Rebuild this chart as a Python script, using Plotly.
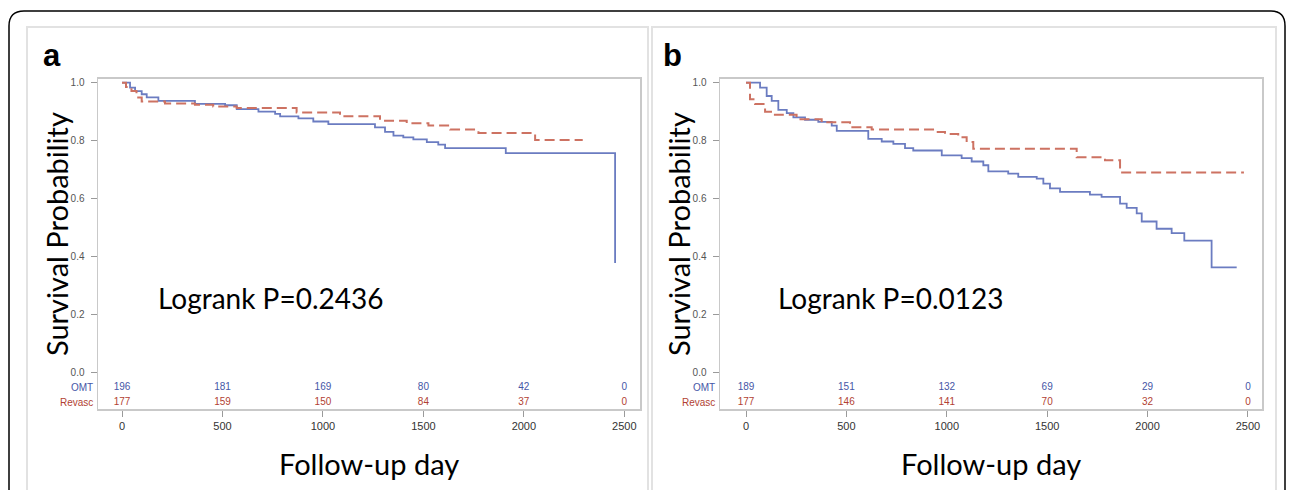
import plotly.graph_objects as go

W, H = 1290, 490

# ---------------- data ----------------
tick_days = [0, 500, 1000, 1500, 2000, 2500]
y_ticks = [0.0, 0.2, 0.4, 0.6, 0.8, 1.0]
y_tick_labels = ["0.0", "0.2", "0.4", "0.6", "0.8", "1.0"]

# Panel a
a_omt_days = [0, 40, 65, 98, 123, 181, 363, 513, 571, 679, 762, 787, 878, 952, 1027,
              1259, 1309, 1351, 1400, 1450, 1517, 1574, 1608, 1910, 2454]
a_omt_surv = [1.0, 0.983, 0.971, 0.96, 0.949, 0.937, 0.927, 0.922, 0.909, 0.90, 0.892,
              0.884, 0.877, 0.866, 0.857, 0.846, 0.83, 0.817, 0.811, 0.804, 0.795, 0.786,
              0.774, 0.757, 0.378]
a_rev_days = [0, 20, 47, 72, 98, 214, 363, 454, 571, 869, 1085, 1284, 1417, 1525, 1633,
              1774, 2056, 2293]
a_rev_surv = [1.0, 0.985, 0.971, 0.949, 0.935, 0.928, 0.924, 0.918, 0.913, 0.897, 0.884,
              0.869, 0.86, 0.852, 0.838, 0.826, 0.802, 0.802]
a_omt_risk = [196, 181, 169, 80, 42, 0]
a_rev_risk = [177, 159, 150, 84, 37, 0]
a_pvalue = "Logrank P=0.2436"

# Panel b
b_omt_days = [0, 70, 103, 128, 161, 203, 236, 294, 360, 427, 452, 609, 676, 734, 792, 833,
              975, 1074, 1124, 1182, 1207, 1306, 1356, 1448, 1481, 1514, 1564, 1713, 1771,
              1863, 1896, 1946, 1971, 2045, 2120, 2183, 2319, 2444]
b_omt_surv = [1.0, 0.983, 0.954, 0.937, 0.906, 0.895, 0.88, 0.872, 0.865, 0.852, 0.834,
              0.806, 0.797, 0.789, 0.774, 0.766, 0.749, 0.740, 0.728, 0.715, 0.694, 0.686,
              0.675, 0.669, 0.652, 0.635, 0.623, 0.614, 0.606, 0.583, 0.568, 0.549, 0.521,
              0.496, 0.481, 0.455, 0.363, 0.363]
b_rev_days = [0, 20, 45, 95, 144, 252, 377, 518, 626, 941, 991, 1057, 1099, 1132, 1647,
              1788, 1863, 2480]
b_rev_surv = [1.0, 0.943, 0.926, 0.90, 0.889, 0.874, 0.863, 0.846, 0.838, 0.83, 0.823,
              0.812, 0.795, 0.772, 0.743, 0.732, 0.69, 0.69]
b_omt_risk = [189, 151, 132, 69, 29, 0]
b_rev_risk = [177, 146, 141, 70, 32, 0]
b_pvalue = "Logrank P=0.0123"

group_labels = ["OMT", "Revasc"]

# ---------------- styling ----------------
BLUE = "#6b7cc1"
RED = "#cd7262"
BLUE_TXT = "#4656a6"
RED_TXT = "#b23f33"
FRAME = "#c9c9c9"
BIG_FONT = "Lato"
SMALL_FONT = "Liberation Sans, Arial"

def px(x):
    return x / W

def py(y):
    return 1 - y / H

fig = go.Figure()

panels = [
    dict(ax="", x0=98, x1=640, xr=[-119.5, 2578], omt=(a_omt_days, a_omt_surv),
         rev=(a_rev_days, a_rev_surv), risk=(a_omt_risk, a_rev_risk), p=a_pvalue,
         letter="a", pend=385),
    dict(ax="2", x0=720, x1=1262, xr=[-129.5, 2570], omt=(b_omt_days, b_omt_surv),
         rev=(b_rev_days, b_rev_surv), risk=(b_omt_risk, b_rev_risk), p=b_pvalue,
         letter="b", pend=1005),
]

Y_TOP, Y_BOT = 77, 409
Y_RANGE = [-0.127, 1.0137]
RISK_Y = [-0.0515, -0.103]

annotations = []
shapes = []

for i, p in enumerate(panels):
    xa = "x" + p["ax"]
    ya = "y" + p["ax"]
    fig.add_trace(go.Scatter(x=p["omt"][0], y=p["omt"][1], mode="lines",
                             line=dict(color=BLUE, width=1.8, shape="hv"),
                             xaxis=xa, yaxis=ya, showlegend=False, hoverinfo="skip"))
    fig.add_trace(go.Scatter(x=p["rev"][0], y=p["rev"][1], mode="lines",
                             line=dict(color=RED, width=2, shape="hv", dash="10px,5px"),
                             xaxis=xa, yaxis=ya, showlegend=False, hoverinfo="skip"))
    for k, (vals, col) in enumerate(zip(p["risk"], [BLUE_TXT, RED_TXT])):
        fig.add_trace(go.Scatter(x=tick_days, y=[RISK_Y[k]] * len(tick_days), mode="text",
                                 text=[str(v) for v in vals],
                                 textfont=dict(family=SMALL_FONT, size=10, color=col),
                                 xaxis=xa, yaxis=ya, showlegend=False, hoverinfo="skip",
                                 cliponaxis=False))
    common_axis = dict(showline=True, linecolor=FRAME, linewidth=1.5, mirror=True,
                       showgrid=False, zeroline=False, ticks="outside", ticklen=6,
                       tickcolor="#9a9a9a", tickwidth=1)
    fig.update_layout(**{
        "xaxis" + p["ax"]: dict(common_axis, domain=[px(p["x0"]), px(p["x1"])],
                                range=p["xr"], tickvals=tick_days,
                                tickfont=dict(family=SMALL_FONT, size=11, color="#333"),
                                anchor=ya),
        "yaxis" + p["ax"]: dict(common_axis, domain=[py(Y_BOT), py(Y_TOP)], range=Y_RANGE,
                                tickvals=y_ticks, ticktext=y_tick_labels,
                                ticklabelstandoff=4,
                                tickfont=dict(family=SMALL_FONT, size=10, color="#555"),
                                anchor=xa),
    })
    off = p["x0"] - 98
    for k, (lab, col) in enumerate(zip(group_labels, [BLUE_TXT, RED_TXT])):
        annotations.append(dict(x=px(p["x0"] - 3), y=RISK_Y[k], xref="paper", yref=ya,
                                text=lab, showarrow=False, xanchor="right", yanchor="middle",
                                font=dict(family=SMALL_FONT, size=10, color=col)))
    annotations.append(dict(x=px(41 + off - (2 if i else 0)), y=py(54), xref="paper", yref="paper",
                            text="<b>%s</b>" % p["letter"], showarrow=False,
                            xanchor="left", yanchor="middle",
                            font=dict(family=SMALL_FONT, size=31, color="#000")))
    annotations.append(dict(x=px(56 + off), y=py(233), xref="paper", yref="paper",
                            text="Survival Probability", textangle=-90, showarrow=False,
                            xanchor="center", yanchor="middle",
                            font=dict(family=BIG_FONT, size=29, color="#000")))
    annotations.append(dict(x=px((p["x0"] + p["x1"]) / 2), y=py(463), xref="paper", yref="paper",
                            text="Follow-up day", showarrow=False,
                            xanchor="center", yanchor="middle",
                            font=dict(family=BIG_FONT, size=29, color="#000")))
    annotations.append(dict(x=px(p["pend"]), y=py(297), xref="paper", yref="paper",
                            text=p["p"], showarrow=False, xanchor="right", yanchor="middle",
                            font=dict(family=BIG_FONT, size=28, color="#000")))

# panel borders
for (l, r) in [(27, 648), (652, 1276)]:
    shapes.append(dict(type="rect", xref="paper", yref="paper",
                       x0=px(l), x1=px(r), y0=py(520), y1=py(25),
                       line=dict(color="#e2e2e2", width=2), layer="below"))

# outer rounded black border
path = ("M {a},{b} L {a},{c} Q {a},{d} {e},{d} L {f},{d} Q {g},{d} {g},{c} L {g},{b}"
        .format(a=px(9), b=py(520), c=py(24), d=py(9), e=px(24), f=px(1271), g=px(1285)))
shapes.append(dict(type="path", path=path, xref="paper", yref="paper",
                   line=dict(color="#000", width=1.5)))

fig.update_layout(width=W, height=H, margin=dict(l=0, r=0, t=0, b=0),
                  paper_bgcolor="white", plot_bgcolor="white", showlegend=False,
                  annotations=annotations, shapes=shapes)

fig.write_html("out.html", config={"displayModeBar": False, "staticPlot": True},
               post_script="document.body.style.margin='0px';document.body.style.overflow='hidden';")
